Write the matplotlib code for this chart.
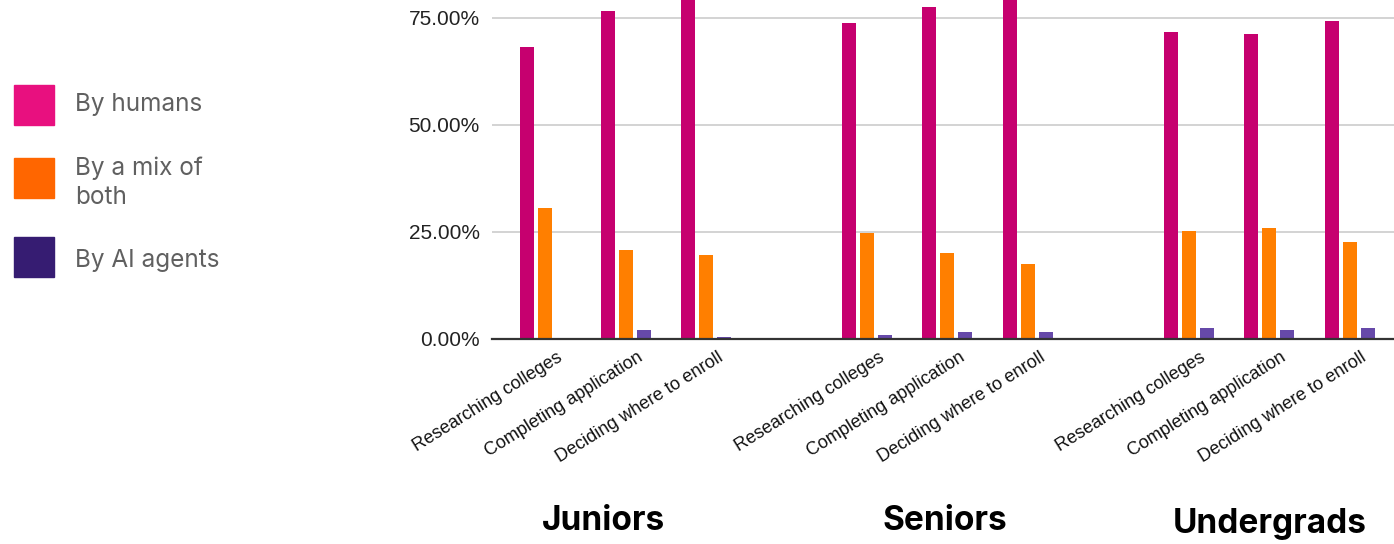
import matplotlib.pyplot as plt
from matplotlib.patches import Rectangle
from matplotlib.ticker import FuncFormatter
from matplotlib.transforms import ScaledTranslation

plt.rcParams['font.family'] = ['Liberation Sans', 'DejaVu Sans']

# tasks repeated per group, with an empty slot between groups
groups = ["Juniors", "Seniors", "Undergrads"]
tasks = ["Researching colleges", "Completing application", "Deciding where to enroll"]
series = ["By humans", "By a mix of\nboth", "By AI agents"]

humans = [68.2, 76.6, 79.9, 73.8, 77.6, 80.7, 71.7, 71.3, 74.2]
mix = [30.6, 20.7, 19.7, 24.8, 20.1, 17.6, 25.3, 26.0, 22.7]
ai_agents = [0.1, 2.1, 0.4, 0.9, 1.7, 1.7, 2.6, 2.1, 2.6]

bar_colors = ["#C6006F", "#FF7F00", "#6649A9"]
legend_colors = ["#E8107F", "#FF6600", "#361C72"]

W, H = 1394, 544
fig = plt.figure(figsize=(W / 100, H / 100), dpi=100)
ax = fig.add_axes([492 / W, 1 - 339 / H, 1 - 492 / W, 339 / H])

# x positions: 3 tasks per group, one blank slot after each group
xpos = []
for g in range(len(groups)):
    for t in range(len(tasks)):
        xpos.append(g * 4 + t)

width = 0.174
step = 0.224
for k, vals in enumerate([humans, mix, ai_agents]):
    ax.bar([x + (k - 1) * step for x in xpos], vals, width, color=bar_colors[k], zorder=3)

ax.set_xlim(-0.66, 10.55)
ax.set_ylim(0, 79.2)
ax.set_yticks([0, 25, 50, 75])
ax.yaxis.set_major_formatter(FuncFormatter(lambda v, p: f"{v:.2f}%"))
ax.grid(axis="y", color="#d0d0d0", linewidth=1.3, zorder=0)
for s in ["top", "right", "left"]:
    ax.spines[s].set_visible(False)
ax.spines["bottom"].set_color("#333333")
ax.spines["bottom"].set_linewidth(1.6)
ax.spines["bottom"].set_zorder(4)
ax.tick_params(axis="y", length=0, pad=9, labelsize=15, labelcolor="#222222")

ax.set_xticks(xpos)
ax.set_xticklabels(tasks * len(groups), rotation=32, ha="right", va="top",
                   rotation_mode="anchor", fontsize=13, color="#111111")
ax.tick_params(axis="x", length=0, pad=7)
offset = ScaledTranslation(0.11, 0, fig.dpi_scale_trans)
for lab in ax.get_xticklabels():
    lab.set_transform(lab.get_transform() + offset)

# group titles under the axis
group_xy = [(603, 521), (945, 521), (1270, 524)]
for name, (gx, gy) in zip(groups, group_xy):
    fig.text(gx / W, 1 - gy / H, name, ha="center", va="center",
             fontsize=24, fontweight="bold", family="Inter", color="#000000")

# legend on the left
legend_y = [105, 178, 257]
text_y = [105, 183, 260]
for name, col, ly, ty in zip(series, legend_colors, legend_y, text_y):
    fig.patches.append(Rectangle((14 / W, 1 - (ly + 20) / H), 40 / W, 40 / H,
                                 transform=fig.transFigure, color=col))
    fig.text(75 / W, 1 - ty / H, name, ha="left", va="center",
             fontsize=17.5, family="Inter", color="#606060", linespacing=1.35)

fig.savefig("out.png", dpi=100)
